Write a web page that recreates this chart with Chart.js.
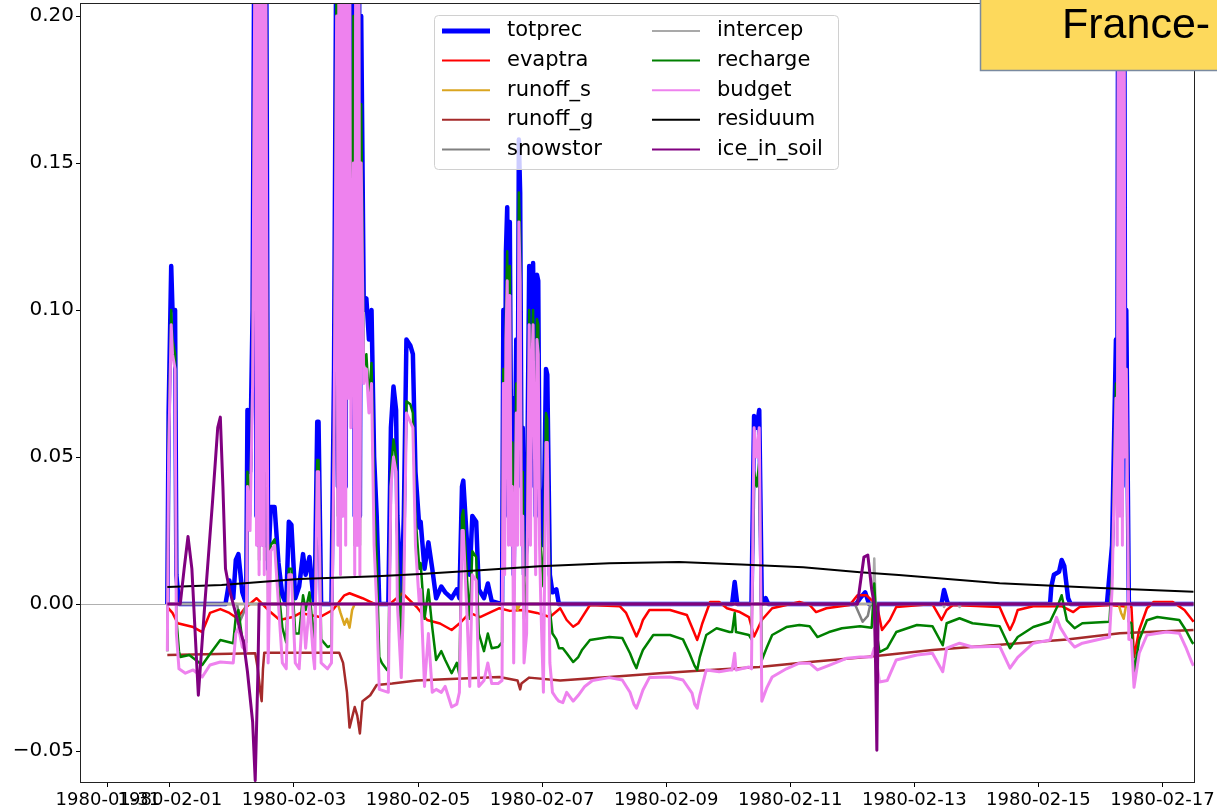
<!DOCTYPE html>
<html>
<head>
<meta charset="utf-8">
<script src="https://cdn.jsdelivr.net/npm/chart.js@4.4.1/dist/chart.umd.min.js"></script>
<style>
  body { margin: 0; background: #fff; }
  #wrap { width: 1217px; height: 811px; }
</style>
</head>
<body>
<div id="wrap"><canvas id="myChart" width="1217" height="811"></canvas></div>
<script>
// hours since 1980-02-01 00:00, value
const totprec = [[-1,0],[-0.5,0.065],[0.5,0.115],[1,0.10],[2,0.10],[2.5,0.01],[3.5,0],[21.5,0],[23,0.008],[24.5,0.002],
  [25.5,0.015],[26.5,0.017],[28,0.004],[29.5,0],[30,0.066],[31,0.045],[32,0.10],[33,0.30],[33.5,0.03],[34,0.35],
  [34.5,0.02],[35,0.35],[35.5,0.03],[36,0.35],[36.5,0.02],[37,0.30],
  [38,0.012],[39,0.033],[40.5,0.033],[42,0.014],[43.5,0.003],[45,0],[46,0.028],[47,0.027],[48.5,0.002],[50,0.006],
  [51.5,0.017],[52.5,0.01],[54,0.016],[55.5,0.002],[56,0],[57,0.062],[57.5,0.062],[58.5,0],[62.5,0],[63.5,0.08],
  [64.5,0.25],[65,0.04],[65.5,0.35],[66,0.03],[66.5,0.35],[67,0.05],[67.5,0.35],[68,0.04],[68.5,0.3],[69,0.1],
  [69.5,0.30],[70,0.09],[71,0.25],[71.5,0.03],[72,0.35],[72.5,0.04],[73,0.35],[73.5,0.03],[74,0.20],[75,0.10],
  [76,0.104],[77,0.09],[78,0.10],
  [79,0.05],[80,0.03],[81,0],[84.5,0],[85.5,0.06],[86.5,0.074],[87.5,0.066],[88,0.03],[89.5,0],[90.5,0.03],
  [91.5,0.09],[93,0.088],[94,0.085],[95,0.045],[96.5,0.026],[97,0.028],[98.5,0.012],[100,0.021],[101.5,0.012],[103,0.002],
  [105,0.006],[106.5,0.004],[109,0.002],[111,0.005],[112,0.002],[113,0.04],[113.5,0.042],[115,0.02],[116,0.01],[117,0.03],
  [118.5,0.028],[119.5,0.005],[121.5,0.002],[123,0.007],[124.5,0.001],[128.5,0],[129,0.10],[129.5,0.03],[130,0.12],[130.5,0.135],
  [131,0.04],[131.5,0.13],[132,0.05],[132.5,0.07],[133,0.01],[134,0.09],[134.5,0.04],[135,0.158],[135.5,0.14],[136,0.05],
  [136.5,0.06],[137,0.01],[138,0.02],[139,0.115],[139.5,0.04],[140,0.1],[140.5,0.116],[141,0.08],[141.5,0.03],[142,0.112],
  [142.5,0.11],[143,0.04],[143.5,0.03],[144.5,0.02],[145.5,0.08],[146,0.078],[147,0.01],[148,0.004],[149.5,0.005],[150.5,0],
  [217.5,0],[218.5,0.0075],
  [219.5,0],[225,0],[226,0.064],[227,0.06],[228,0.066],[229,0],[230.5,0.002],[231.5,0],[265.5,0],[267,0.002],
  [269,0.004],[270.5,0],[298.5,0],[299.5,0.0048],[301,0],[340.5,0],[341,0.006],[342,0.01],[344,0.011],[345,0.015],
  [346,0.013],[347.5,0.002],[348.5,0],[362.5,0],[364.5,0.02],[366,0.09],[366.5,0.04],[367,0.3],[367.5,0.05],[368,0.35],
  [368.5,0.04],[369,0.35],[369.5,0.08],[370,0.10],[371,0],[396,0]];

const evaptra = [[-1,-0.001],[1,-0.003],[3,-0.0065],[9,-0.0078],[12.5,-0.0095],[15.5,-0.003],[19.5,-0.0017],[23,-0.003],[26,-0.0048],[29,-0.0014],
  [33.5,0.002],[38,-0.002],[42.5,-0.0054],[47.5,-0.0044],[50.5,-0.003],[58,-0.0044],[63,-0.002],[67.5,0.003],[69.5,0.0037],[74.5,0.002],
  [80,-0.0003],[85,0],[90,0.0037],[95.5,-0.001],[99.5,-0.0054],[104.5,-0.0066],[109,-0.0088],[112,-0.0066],[116,-0.003],[120,-0.0044],
  [123.5,-0.003],[127.5,-0.0014],[131.5,-0.0023],[136.5,-0.002],[142,-0.003],[147,-0.0044],[151,-0.0014],[153.5,-0.0054],[156,-0.0077],[158,-0.0065],
  [159.5,-0.0044],[162.5,-0.0003],[174,-0.0007],[176.5,-0.003],[179,-0.008],[180.5,-0.011],[182,-0.008],[183,-0.0054],[185.5,-0.002],[193.5,-0.002],
  [200,-0.0037],[202.5,-0.009],[204,-0.0122],[205,-0.0095],[206,-0.0065],[209,0.0007],[212.5,0.0007],[215.5,-0.0014],[220.5,-0.0027],[224,-0.0044],
  [226,-0.011],[229,-0.0054],[233,-0.0014],[243.5,0.0007],
  [247.5,-0.0003],[250,-0.0027],[254,-0.0014],[263,-0.0003],[266,0.003],[269.5,0.003],[273.5,-0.0003],[275.5,-0.0088],[278.5,-0.0054],[281,-0.001],
  [295,0],[298.5,-0.0054],[300.5,-0.002],[303,-0.0003],[321,-0.001],[323.5,-0.006],[325,-0.0088],[326.5,-0.006],[328,-0.002],[334,-0.0007],
  [345,-0.0007],[349.5,-0.0027],
  [352,-0.001],[363.5,-0.0003],[372,-0.001],[373,-0.018],[375,-0.0088],[378,-0.0014],[380.5,0.0007],[388,0.0007],[392.5,-0.002],[395.5,-0.0054],[396,-0.006]];

const runoff_s = [[-1,0],[65,0],[66,-0.003],[67.5,-0.007],[68.5,-0.005],[69.5,-0.008],[70.5,-0.002],[71.5,0],
  [134,0],[134.5,-0.002],[135.5,0],[367,0],[368,-0.003],[369,-0.005],[370,0],[396,0]];

const runoff_g = [[-1,-0.0173],[33,-0.0167],[34,-0.022],[35,-0.03],[35.5,-0.033],[36,-0.022],[36.5,-0.0165],[65.5,-0.0165],[67,-0.02],[68.5,-0.03],
  [69.5,-0.042],[71.5,-0.035],[72.5,-0.038],[73.5,-0.044],[74.5,-0.033],[77.5,-0.031],[80,-0.0275],[86,-0.027],[95.5,-0.026],[108.5,-0.0255],
  [127.5,-0.0248],[134.5,-0.026],[135.5,-0.029],[136,-0.027],[139,-0.025],[151,-0.026],[170,-0.0248],[189.5,-0.0235],[209,-0.0224],[228,-0.0214],
  [247.5,-0.0197],[269.5,-0.018],[295,-0.0156],[321,-0.0138],[347,-0.012],[367.5,-0.0099],[396,-0.0088]];

const snowstor = [[-1,0],[26,0],[27,-0.006],[28.5,-0.003],[29.5,0],[265,0],[266,-0.002],[268,-0.006],[270,-0.004],[271,0],[396,0]];

const intercep = [[-1,0],[272,0],[272.5,0.0155],[273,0],[299,0],[299.5,-0.001],[300,0],[305,0],[305.5,-0.001],[306,0],[396,0]];

const recharge = [[-1,-0.016],[-0.5,0.055],[0.5,0.10],[1,0.09],[2,0.085],[2.5,-0.005],[3.5,-0.016],[4,-0.018],[7.5,-0.0173],[12.5,-0.0207],
  [15.5,-0.017],[19.5,-0.0122],[24.5,-0.0133],[25.5,-0.004],[26.5,-0.002],[28,-0.012],[29.5,-0.013],[30,0.045],[31,0.03],[32,0.08],
  [33,0.25],[33.5,0.025],[34,0.3],[34.5,0.015],[35,0.3],[35.5,0.025],[36,0.3],[36.5,0.015],[37,0.25],
  [38,0],[39,0.02],[40.5,0.022],[42,0.005],[43.5,-0.008],[45,-0.013],[46,0.012],
  [47,0.012],[48.5,-0.01],[50,-0.01],[51.5,0.003],[52.5,-0.002],[54,0.004],[55.5,-0.01],[56,-0.013],[57,0.049],[57.5,0.049],
  [58.5,-0.012],[61,-0.0146],[62.5,-0.014],[63.5,0.06],[64.5,0.22],[65,0.03],[65.5,0.3],[66,0.02],[66.5,0.3],[67,0.04],
  [67.5,0.3],[68,0.03],[68.5,0.26],[69,0.08],[69.5,0.26],[70,0.07],[71,0.2],[71.5,0.02],[72,0.3],[72.5,0.03],
  [73,0.3],[73.5,0.02],[74,0.17],
  [75,0.08],[76,0.085],[77,0.07],[78,0.082],[79,0.035],[80,0.015],[81,-0.018],[82,-0.02],[84,-0.0224],[84.5,-0.022],
  [85.5,0.045],[86.5,0.056],[87.5,0.05],[88,0.02],[89.5,-0.012],[90.5,0.015],[91.5,0.069],[93,0.068],[94,0.065],[95,0.03],
  [96.5,0.012],[97,0.014],[98.5,-0.005],[100,0.005],[101.5,-0.008],[103,-0.019],[105,-0.016],[106.5,-0.019],[109,-0.0235],[111,-0.02],
  [112,-0.024],[113,0.03],[113.5,0.032],[115,0.008],[116,-0.005],[117,0.018],[118.5,0.016],[119.5,-0.01],[121.5,-0.016],[123,-0.01],
  [124.5,-0.015],[127,-0.0146],[128.5,-0.013],[129,0.08],[129.5,0.02],[130,0.1],[130.5,0.12],[131,0.03],[131.5,0.115],[132,0.035],
  [132.5,0.055],[133,-0.005],[134,0.075],[134.5,0.03],[135,0.14],[135.5,0.125],[136,0.035],[136.5,0.045],[137,-0.005],[138,0.008],
  [139,0.1],[139.5,0.03],[140,0.085],[140.5,0.1],[141,0.065],[141.5,0.02],[142,0.097],[142.5,0.095],[143,0.03],[143.5,0.018],
  [144.5,0.006],[145.5,0.065],
  [146,0.063],[147,-0.002],[148,-0.01],[149.5,-0.012],[150.5,-0.015],[152,-0.015],[153.5,-0.0167],[156,-0.0197],[158,-0.018],[159.5,-0.0155],
  [162.5,-0.0122],[170,-0.0112],[175,-0.0115],[178,-0.0167],[179.5,-0.02],[180.5,-0.0218],[181.5,-0.019],[183,-0.0156],[187,-0.0105],[193.5,-0.0105],
  [198.5,-0.012],[201,-0.0167],[203,-0.021],[204,-0.0224],[205,-0.018],
  [207.5,-0.0105],[211.5,-0.0082],[216.5,-0.0095],[217.5,-0.0095],[218.5,-0.003],[219,-0.0095],[224,-0.0105],[225,-0.012],[226,0.045],
  [227,0.04],[228,0.048],[229,-0.019],[231,-0.0146],[233,-0.0105],[238.5,-0.0078],[243.5,-0.0071],[247.5,-0.0075],[250.5,-0.0112],[255,-0.0095],
  [260,-0.0082],[267,-0.0075],[271.5,-0.008],[272.5,0.007],[273.5,-0.01],[274.5,-0.0163],[277.5,-0.015],[281,-0.0095],[289,-0.0071],[295,-0.0075],
  [299,-0.014],[300.5,-0.0065],[305.5,-0.0048],[310.5,-0.0065],[321,-0.0075],[325,-0.015],[328,-0.0112],[334,-0.0078],[340.5,-0.006],[343.5,-0.0005],
  [345,0.003],[347,-0.0055],[350,-0.0082],[353,-0.0065],[363.5,-0.006],[364.5,0.01],[366,0.075],[366.5,0.03],[367,0.25],[367.5,0.04],
  [368,0.3],[368.5,0.03],[369,0.3],[369.5,0.06],[370,0.08],
  [371,-0.006],[372,-0.0065],[373,-0.0235],[375,-0.0122],[378,-0.0055],[382,-0.0044],[385.5,-0.0048],[390.5,-0.0054],[393,-0.0088],[395.5,-0.013],[396,-0.0135]];

const budget = [[-1,-0.016],[-0.5,0.05],[0.5,0.095],[1,0.085],[2,0.08],[2.5,-0.01],[3.5,-0.022],[6,-0.0235],[9,-0.0224],[12.5,-0.0248],
  [15.5,-0.0207],[19.5,-0.0197],[24.5,-0.02],[25.5,-0.01],[26.5,-0.008],[28,-0.0146],[29.5,-0.016],[30,0.04],[31,0.025],[32,0.075],
  [33,0.24],[33.5,0.02],[34,0.3],[34.5,0.01],[35,0.3],[35.5,0.02],[36,0.3],[36.5,0.01],[37,0.24],
  [38,-0.02],[39,0.018],[40.5,0.02],[42,0],[43.5,-0.02],[45,-0.022],[46,0.01],
  [47,0.01],[48.5,-0.02],[50,-0.022],[51.5,0],[52.5,-0.015],[54,0],[55.5,-0.018],[56,-0.022],[57,0.045],[57.5,0.045],
  [58.5,-0.02],[61,-0.022],[62.5,-0.02],[63.5,0.055],[64.5,0.2],[65,0.02],[65.5,0.3],[66,0.01],[66.5,0.3],[67,0.03],
  [67.5,0.3],[68,0.02],[68.5,0.25],[69,0.07],[69.5,0.25],[70,0.06],[71,0.15],[71.5,0.01],[72,0.3],[72.5,0.02],
  [73,0.3],[73.5,0.01],[74,0.15],
  [75,0.075],[76,0.08],[77,0.065],[78,0.075],[79,0.02],[80,0],[81,-0.029],[84.5,-0.03],[85.5,0.04],[86.5,0.05],
  [87.5,0.045],[88,0],[89.5,-0.025],[90.5,0.005],[91.5,0.065],[93,0.062],[94,0.06],[95,0.02],[96.5,0],[97,0.005],
  [98.5,-0.028],[100,-0.01],[101.5,-0.03],[103,-0.029],[105,-0.03],[106.5,-0.028],[109,-0.035],[111,-0.034],[112,-0.03],[113,0.025],
  [113.5,0.025],[115,-0.005],[116,-0.028],[117,0.01],[118.5,0.008],[119.5,-0.028],[121.5,-0.026],[123,-0.02],[124.5,-0.027],[127,-0.027],
  [128.5,-0.026],[129,0.075],[129.5,0.01],[130,0.09],[130.5,0.11],[131,0.02],[131.5,0.105],[132,0.02],[132.5,0.04],[133,-0.02],
  [134,0.065],[134.5,0.02],[135,0.13],[135.5,0.11],[136,0.02],[136.5,0.03],[137,-0.02],[138,-0.01],[139,0.095],[139.5,0.02],
  [140,0.08],[140.5,0.095],[141,0.055],[141.5,0.01],[142,0.09],[142.5,0.085],[143,0.02],[143.5,0],[144.5,-0.03],[145.5,0.055],
  [146,0.055],[147,-0.02],
  [148,-0.03],[149.5,-0.032],[150.5,-0.033],[152,-0.0335],[153.5,-0.03],[156,-0.033],[158,-0.031],[160.5,-0.028],[163.5,-0.026],[170,-0.025],
  [175,-0.0258],[178,-0.03],[179.5,-0.034],[180.5,-0.0354],[181.5,-0.033],[183,-0.0292],[185.5,-0.025],[193.5,-0.0248],[198.5,-0.0258],[202,-0.0303],
  [203,-0.034],[204,-0.0354],[205,-0.031],[207.5,-0.0224],
  [212.5,-0.023],[216.5,-0.0224],[217.5,-0.0224],[218.5,-0.0167],[219,-0.0224],[224,-0.0214],[225,-0.022],[226,0.06],[227,0.05],[228,0.06],
  [229,-0.033],[231,-0.0283],[233,-0.0248],[238.5,-0.022],[243.5,-0.0201],[247.5,-0.0201],[250.5,-0.0224],[255,-0.0208],[262,-0.0184],[267,-0.018],
  [271.5,-0.018],[272.5,-0.015],[273.5,-0.02],[274.5,-0.0265],[277.5,-0.026],[281,-0.019],[289,-0.0173],[295,-0.0167],[299,-0.023],[300.5,-0.015],
  [305.5,-0.0133],[310.5,-0.0146],[321,-0.0143],[325,-0.0218],[328,-0.0181],[334,-0.0133],[340.5,-0.0122],[343,-0.0045],[344.5,-0.008],[347,-0.0116],
  [350,-0.0146],[353,-0.0133],[363.5,-0.0112],[364.5,0.005],[366,0.07],[366.5,0.02],[367,0.25],[367.5,0.03],[368,0.3],[368.5,0.02],
  [369,0.3],[369.5,0.05],[370,0.08],[371,-0.012],[372,-0.0122],
  [373,-0.0283],[375,-0.0167],[378,-0.0105],[385.5,-0.0095],[390.5,-0.0099],[393,-0.0146],[395.5,-0.0201],[396,-0.021]];

const residuum = [[-1,0.0058],[20,0.0065],[50,0.0085],[80,0.0095],[97,0.0102],[120,0.0115],[143,0.0129],[170,0.0139],
  [197,0.0143],[221,0.0135],[245,0.0125],[267,0.0108],[282,0.0099],[321,0.0071],[360,0.0055],[396,0.0042]];

const ice_in_soil = [[-1,0],[4,0],[5.5,0.012],[7,0.023],[8.5,0.012],[11,-0.031],[13.5,0],[16.5,0.035],[18.5,0.06],[19.5,0.0636],
  [20.5,0.04],[21.5,0.012],[23,0.005],[24.5,0],[26,-0.005],[28.5,-0.013],[30,-0.023],[32,-0.04],[33,-0.06],[34,-0.025],
  [34.5,0],[266,0],[268.5,0.016],[270,0.0167],[271.5,0.005],[272.5,0],[273,-0.02],[273.5,-0.0497],[274,0],[396,0]];

const seriesNames = ['totprec', 'evaptra', 'runoff_s', 'runoff_g', 'snowstor', 'intercep', 'recharge', 'budget', 'residuum', 'ice_in_soil'];
const seriesData = [totprec, evaptra, runoff_s, runoff_g, snowstor, intercep, recharge, budget, residuum, ice_in_soil];
const seriesColors = ['#0000ff', '#ff0000', '#daa520', '#a52a2a', '#808080', '#a9a9a9', '#008000', '#ee82ee', '#000000', '#800080'];

const xTickHours = [-24, 0, 48, 96, 144, 192, 240, 288, 336, 384];
const xTickLabels = ['1980-01-31', '1980-02-01', '1980-02-03', '1980-02-05', '1980-02-07', '1980-02-09',
  '1980-02-11', '1980-02-13', '1980-02-15', '1980-02-17'];
const yTickValues = [-0.05, 0, 0.05, 0.10, 0.15, 0.20];

function lineWidthFor(name) {
  if (name === 'totprec') return 4.5;
  if (name === 'ice_in_soil' || name === 'budget') return 3;
  if (name === 'residuum') return 2;
  return 2.5;
}

const datasets = seriesNames.map((name, i) => ({
  label: name,
  data: seriesData[i].map(p => ({ x: p[0], y: p[1] })),
  borderColor: seriesColors[i],
  backgroundColor: seriesColors[i],
  borderWidth: lineWidthFor(name),
  borderJoinStyle: 'round',
  pointRadius: 0,
  tension: 0,
  fill: false,
  clip: 0,
  order: 10 - i
}));

// matplotlib-style frame, legend and the yellow title box
const overlayPlugin = {
  id: 'overlay',
  afterDraw(chart) {
    const c = chart.ctx;
    const a = chart.chartArea;
    c.save();
    c.strokeStyle = '#222';
    c.lineWidth = 1;
    c.strokeRect(a.left - 0.5, a.top - 0.5, a.right - a.left + 1, a.bottom - a.top + 1);

    c.beginPath();
    c.roundRect(434.5, 15.5, 404, 154, 4);
    c.fillStyle = 'rgba(255,255,255,0.8)';
    c.fill();
    c.strokeStyle = '#d0d0d0';
    c.lineWidth = 1;
    c.stroke();

    c.font = '21px "DejaVu Sans"';
    c.textBaseline = 'middle';
    seriesNames.forEach((name, i) => {
      const col = i < 5 ? 0 : 1;
      const y = 31 + (i % 5) * 29.6;
      const x0 = col ? 652 : 442;
      c.beginPath();
      c.moveTo(x0, y);
      c.lineTo(x0 + 48, y);
      c.strokeStyle = seriesColors[i];
      c.lineWidth = name === 'totprec' ? 5 : 2;
      c.stroke();
      c.fillStyle = '#000';
      c.fillText(name, x0 + 65, y);
    });

    c.fillStyle = '#fdd95c';
    c.fillRect(980, -5, 260, 76);
    c.strokeStyle = '#7a8aa0';
    c.lineWidth = 1.5;
    c.strokeRect(980.5, -5, 260, 75.5);
    c.fillStyle = '#000';
    c.font = '43px "Liberation Sans"';
    c.textBaseline = 'alphabetic';
    c.fillText('France-', 1062, 38);
    c.restore();
  }
};

const ctx = document.getElementById('myChart');

new Chart(ctx, {
  type: 'line',
  data: { datasets: datasets },
  options: {
    responsive: false,
    animation: false,
    events: [],
    layout: { padding: { left: 0, right: 23, top: 4, bottom: 0 } },
    plugins: {
      legend: { display: false },
      tooltip: { enabled: false }
    },
    scales: {
      x: {
        type: 'linear',
        min: -34.4,
        max: 396.2,
        afterBuildTicks: scale => { scale.ticks = xTickHours.map(v => ({ value: v })); },
        afterFit: scale => { scale.height = 29; scale.paddingLeft = 0; scale.paddingRight = 0; },
        border: { display: false },
        grid: { drawOnChartArea: false, tickLength: 5, tickColor: '#000', tickWidth: 1 },
        ticks: {
          autoSkip: false,
          maxRotation: 0,
          minRotation: 0,
          padding: 3,
          color: '#000',
          font: { family: 'DejaVu Sans', size: 18 },
          callback: (value, index) => xTickLabels[index]
        }
      },
      y: {
        type: 'linear',
        min: -0.0605,
        max: 0.2041,
        afterBuildTicks: scale => { scale.ticks = yTickValues.map(v => ({ value: v })); },
        afterFit: scale => { scale.width = 81; scale.paddingTop = 0; scale.paddingBottom = 0; },
        border: { display: false },
        grid: {
          color: c => (c.tick && c.tick.value === 0 ? '#b0b0b0' : 'rgba(0,0,0,0)'),
          lineWidth: 1,
          tickLength: 5,
          tickColor: '#000',
          tickWidth: 1
        },
        ticks: {
          padding: 2,
          color: '#000',
          font: { family: 'DejaVu Sans', size: 20 },
          callback: value => value.toFixed(2).replace('-', '\u2212')
        }
      }
    }
  },
  plugins: [overlayPlugin]
});
</script>
</body>
</html>
